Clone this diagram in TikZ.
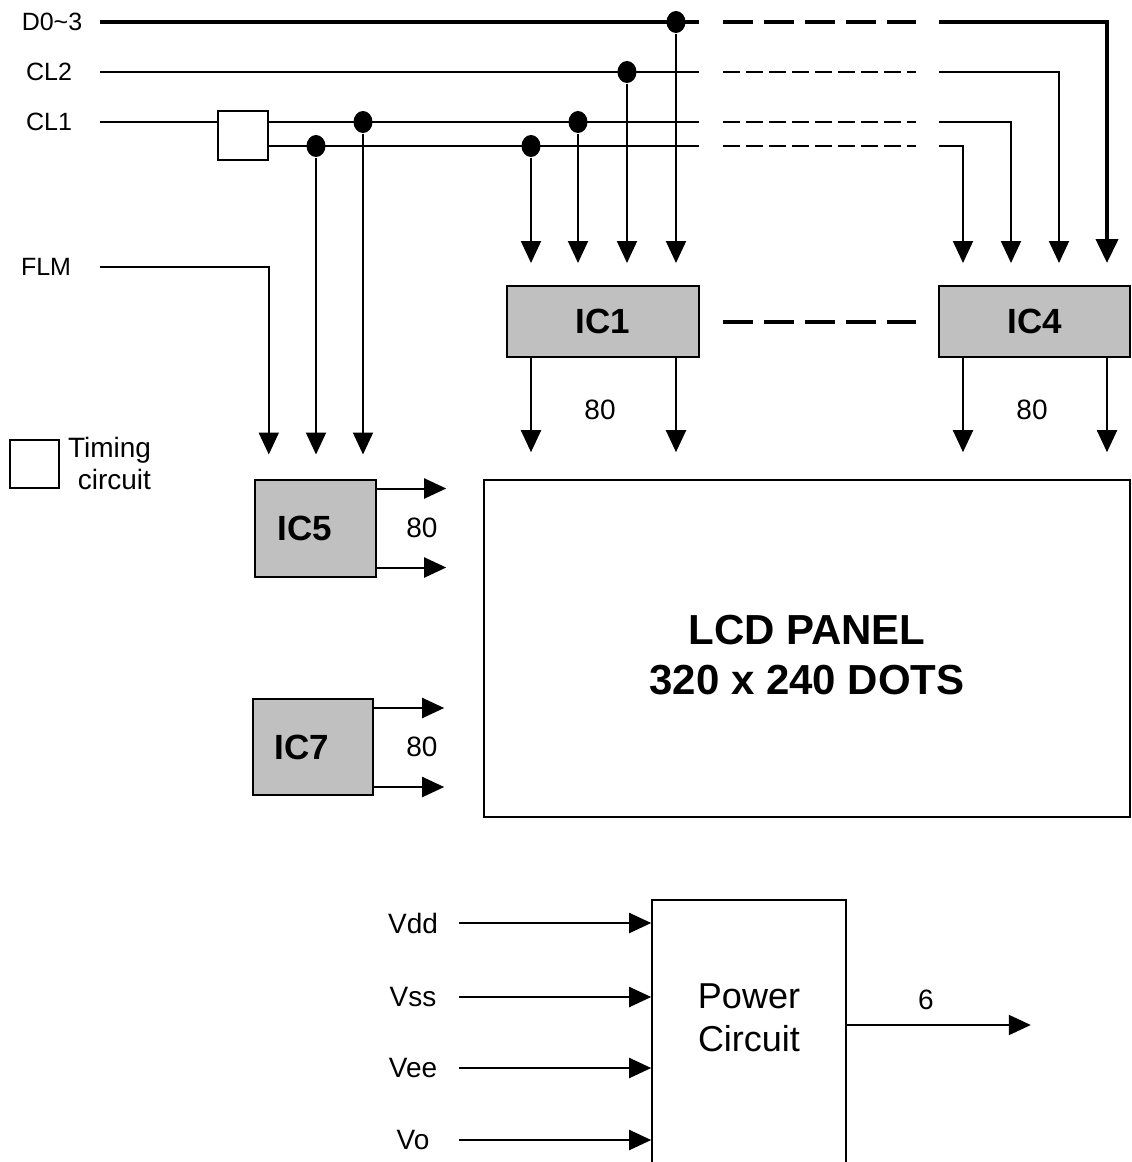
\documentclass[tikz,border=0pt]{standalone}
\usepackage{fontspec}
\setmainfont{Liberation Sans}
\usetikzlibrary{positioning,shapes.geometric,arrows.meta}
\definecolor{icGray}{HTML}{C0C0C0}
\tikzstyle{arrow} = [line width=1pt,->,>={Triangle[length=11pt,width=10pt]}]
\tikzstyle{busArrow} = [line width=2pt,->,>={Triangle[length=12pt,width=11pt]}]
\tikzstyle{tIC} = [rectangle, draw=black, line width=1pt, fill=icGray, minimum height=35.5pt, font=\fontsize{17.5}{20}\selectfont\bfseries]
\tikzstyle{tBox} = [rectangle, draw=black, line width=0.8pt, inner sep=0pt]
\tikzstyle{tDot} = [ellipse, fill=black, inner sep=0pt, minimum width=9.5pt, minimum height=11pt]
\tikzstyle{tLabel} = [inner sep=0pt, font=\fontsize{12.5}{15}\selectfont]
\tikzstyle{tNum} = [inner sep=0pt, font=\fontsize{14}{16}\selectfont]
\tikzstyle{bigDash} = [line width=2pt, dash pattern=on 15pt off 5.5pt]
\tikzstyle{smallDash} = [line width=1pt, dash pattern=on 8.5pt off 3pt]

\begin{document}
\begin{tikzpicture}[x=0.5pt,y=-0.5pt,line width=1pt]
        \useasboundingbox (0,0) rectangle (1131,1162);
        % signal names and line starts
        \node[tLabel] (LD) at (52,22) {D0\textasciitilde3};
        \node[tLabel] (LCL2) at (49,72) {CL2};
        \node[tLabel] (LCL1) at (49,122) {CL1};
        \node[tLabel] (LFLM) at (46,267) {FLM};
        \coordinate (D0in) at (100,22);
        \coordinate (CL2in) at (100,72);
        \coordinate (CL1in) at (100,122);
        \coordinate (FLMin) at (100,267);
        \coordinate (CLb) at (268,146);
        % where the bus is broken
        \coordinate (GapL) at (699,0);
        \coordinate (DashL) at (723,0);
        \coordinate (DashR) at (916,0);
        \coordinate (GapR) at (939,0);
        % blocks
        \node[tBox, minimum width=25pt, minimum height=24.5pt] (Timer) at (243,135.5) {};
        \node[tIC, minimum width=96pt] (IC1) at (603,321.5) {IC1};
        \node[tIC, minimum width=95.5pt] (IC4) at (1034.5,321.5) {IC4};
        \node[tIC, minimum width=60.5pt, minimum height=48.5pt] (IC5) at (315.5,528) {IC5\hspace*{11pt}};
        \node[tIC, minimum width=60pt, minimum height=48pt] (IC7) at (313,747) {IC7\hspace*{11pt}};
        \node[tBox, minimum width=323pt, minimum height=168.5pt, label={[align=center, yshift=-3.5pt, font=\fontsize{21}{25}\selectfont\bfseries]center:LCD PANEL\\320 x 240 DOTS}] (Panel) at (807,648.5) {};
        \node[tBox, minimum width=97pt, minimum height=140pt, label={[align=center, yshift=11pt, font=\fontsize{18}{21.5}\selectfont]center:Power\\Circuit}] (Pwr) at (749,1040) {};
        % legend
        \node[tBox, minimum width=24.5pt, minimum height=24pt] (Legend) at (34.5,464) {};
        \node[tNum, align=right, anchor=east] (LegendTxt) at (152,463) {Timing\\circuit};
        % junctions
        \node[tDot] (J1) at (363,122) {};
        \node[tDot] (J2) at (316,146) {};
        \node[tDot] (J3) at (531,146) {};
        \node[tDot] (J4) at (578,122) {};
        \node[tDot] (J5) at (627,72) {};
        \node[tDot] (J6) at (676,22) {};
        % corners into IC4
        \coordinate (K1) at (963,146);
        \coordinate (K2) at (1011,122);
        \coordinate (K3) at (1059,72);
        \coordinate (K4) at (1107,22);

        % bus lines
        \draw[line width=2pt] (D0in) -- (D0in -| GapL);
        \draw[bigDash] (D0in -| DashL) -- (D0in -| DashR);
        \draw[busArrow, shorten >=11pt] (D0in -| GapR) -| (IC4.north -| K4);
        \draw (CL2in) -- (CL2in -| GapL);
        \draw[smallDash] (CL2in -| DashL) -- (CL2in -| DashR);
        \draw[arrow, shorten >=11pt] (CL2in -| GapR) -| (IC4.north -| K3);
        \draw (CL1in) -- (CL1in -| Timer.west);
        \draw (Timer.east |- CL1in) -- (CL1in -| GapL);
        \draw[smallDash] (CL1in -| DashL) -- (CL1in -| DashR);
        \draw[arrow, shorten >=11pt] (CL1in -| GapR) -| (IC4.north -| K2);
        \draw (CLb) -- (CLb -| GapL);
        \draw[smallDash] (CLb -| DashL) -- (CLb -| DashR);
        \draw[arrow, shorten >=11pt] (CLb -| GapR) -| (IC4.north -| K1);
        \draw[bigDash] (IC1 -| DashL) -- (IC1 -| DashR);

        % taps into IC1
        \foreach \j in {J3,J4,J5,J6}
            \draw[arrow, shorten >=11pt] (\j) -- (\j |- IC1.north);
        % taps into IC5
        \draw[arrow, shorten >=12pt] (FLMin) -| (IC5.north -| Timer.east);
        \draw[arrow, shorten >=12pt] (J2) -- (J2 |- IC5.north);
        \draw[arrow, shorten >=12pt] (J1) -- (J1 |- IC5.north);

        % outputs to the panel
        \foreach \j in {J3,J6}
            \draw[arrow, shorten >=13.5pt] (IC1.south -| \j) -- (Panel.north -| \j);
        \foreach \k in {K1,K4}
            \draw[arrow, shorten >=13.5pt] (IC4.south -| \k) -- (Panel.north -| \k);
        \draw[arrow, shorten >=18.5pt] ([yshift=-5pt]IC5.north east) -- ([yshift=-5pt]IC5.north east -| Panel.west);
        \draw[arrow, shorten >=18.5pt] ([yshift=5pt]IC5.south east) -- ([yshift=5pt]IC5.south east -| Panel.west);
        \draw[arrow, shorten >=19.5pt] ([yshift=-5pt]IC7.north east) -- ([yshift=-5pt]IC7.north east -| Panel.west);
        \draw[arrow, shorten >=19.5pt] ([yshift=4.5pt]IC7.south east) -- ([yshift=4.5pt]IC7.south east -| Panel.west);
        \node[tNum] (N1) at (600,410) {80};
        \node[tNum] (N4) at (1032,410) {80};
        \node[tNum] (N5) at (422,528) {80};
        \node[tNum] (N7) at (422,747) {80};

        % power circuit
        \node[tNum, minimum width=27pt] (Vdd) at (413,923) {Vdd};
        \node[tNum, minimum width=27pt] (Vss) at (413,997) {Vss};
        \node[tNum, minimum width=27pt] (Vee) at (413,1068) {Vee};
        \node[tNum, minimum width=27pt] (Vo) at (413,1140) {Vo};
        \foreach \v in {Vdd,Vss,Vee,Vo}
            \draw[arrow, shorten <=9pt] (\v.east) -- (\v -| Pwr.west);
        \draw[arrow] ([yshift=7.5pt]Pwr.east) -- ++(184,0) node[tNum, pos=0.43, above=7pt] (N6) {6};
    \end{tikzpicture}
\end{document}
